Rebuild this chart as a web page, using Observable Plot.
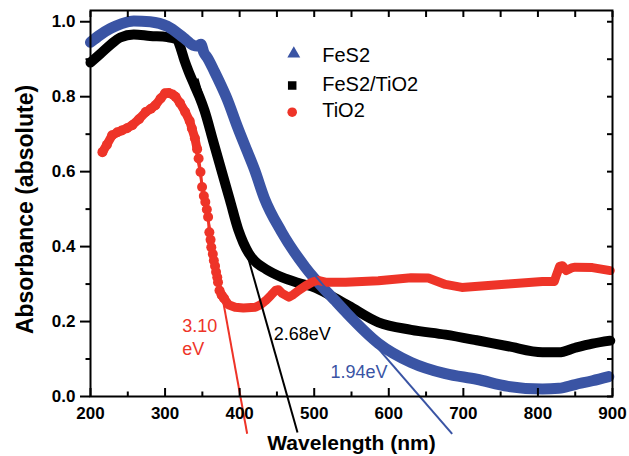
<!DOCTYPE html>
<html><head><meta charset="utf-8">
<script src="https://cdn.jsdelivr.net/npm/d3@7"></script>
<script src="https://cdn.jsdelivr.net/npm/@observablehq/plot@0.6"></script>
<style>
html,body{margin:0;padding:0;background:#fff;}
#chart svg{display:block;}
</style></head><body><div id="chart"></div>
<script>
// ---- data ----
const seriesNames = ["FeS2", "FeS2/TiO2", "TiO2"];

const fes2Wl  = [200, 213, 227, 242, 258, 280, 303, 325, 338, 343, 348, 352, 357, 366, 374, 383, 397, 410, 420, 433, 456, 488, 528, 542, 586, 630, 676, 718, 760, 806, 828, 850, 873, 895];
const fes2Abs = [0.945, 0.965, 0.982, 0.995, 1.002, 1.0, 0.988, 0.957, 0.937, 0.935, 0.94, 0.918, 0.903, 0.868, 0.835, 0.795, 0.72, 0.655, 0.605, 0.53, 0.44, 0.345, 0.256, 0.226, 0.142, 0.091, 0.061, 0.046, 0.027, 0.020, 0.022, 0.032, 0.042, 0.053];

const compWl  = [200, 213, 227, 240, 258, 280, 303, 316, 320, 326, 332, 339.5, 346, 352.9, 364.3, 375.7, 387.1, 398.5, 405, 412, 420, 435, 457, 479, 502, 524, 546, 586, 630, 676, 718, 760, 806, 828, 850, 873, 897];
const compAbs = [0.891, 0.914, 0.939, 0.958, 0.966, 0.962, 0.959, 0.953, 0.935, 0.897, 0.865, 0.83, 0.80, 0.763, 0.683, 0.603, 0.523, 0.443, 0.41, 0.383, 0.362, 0.34, 0.318, 0.303, 0.29, 0.267, 0.2425, 0.198, 0.178, 0.165, 0.150, 0.134, 0.118, 0.118, 0.13, 0.141, 0.149];

const tio2Wl  = [216, 222, 229, 236, 242, 249, 256, 265, 274, 281, 287, 294, 300, 305, 310, 314, 320, 327, 333, 336, 340, 343, 345, 347.5, 349.6, 352, 354, 356, 357.7, 359.4, 361, 362, 364, 365.4, 367, 368.4, 370, 371, 373, 376, 379, 385, 394, 405, 421, 428, 435, 442, 448, 452, 457, 466, 472, 479, 488, 497, 505, 515, 530, 542, 586, 630, 653, 676, 698, 720, 760, 806, 822, 825, 829, 833, 838, 845, 850, 873, 897];
const tio2Abs = [0.652, 0.672, 0.697, 0.705, 0.71, 0.716, 0.724, 0.74, 0.759, 0.768, 0.777, 0.795, 0.809, 0.81, 0.806, 0.80, 0.783, 0.759, 0.735, 0.715, 0.689, 0.66, 0.635, 0.599, 0.559, 0.535, 0.519, 0.499, 0.479, 0.438, 0.418, 0.398, 0.38, 0.363, 0.348, 0.332, 0.318, 0.305, 0.283, 0.27, 0.262, 0.245, 0.238, 0.236, 0.238, 0.245, 0.256, 0.27, 0.283, 0.285, 0.275, 0.265, 0.272, 0.283, 0.295, 0.305, 0.31, 0.305, 0.305, 0.305, 0.309, 0.317, 0.316, 0.299, 0.291, 0.294, 0.30, 0.307, 0.307, 0.325, 0.347, 0.349, 0.336, 0.343, 0.345, 0.344, 0.336];

// band-gap tangent lines (start / end points)
const tangentSeries = ["TiO2", "FeS2/TiO2", "FeS2"];
const tangentX1 = [333.4, 343.5, 450];
const tangentY1 = [0.7418, 0.8485, 0.44];
const tangentX2 = [410.1, 477.6, 685];
const tangentY2 = [-0.0995, -0.0961, -0.0995];

// annotations
const annText   = ["3.10", "eV", "2.68eV", "1.94eV"];
const annSeries = ["TiO2", "TiO2", "FeS2/TiO2", "FeS2"];
const annX      = [323, 323, 445.8, 521.8];
const annY      = [0.187, 0.125, 0.165, 0.0635];

// axes
const xMajor = [200, 300, 400, 500, 600, 700, 800, 900];
const xMinor = [250, 350, 450, 550, 650, 750, 850];
const xTop   = [200, 250, 300, 350, 400, 450, 500, 550, 600, 650, 700, 750, 800, 850, 900];
const yMajor = [0, 0.2, 0.4, 0.6, 0.8, 1.0];
const yMinor = [0.1, 0.3, 0.5, 0.7, 0.9];
const yRight = [0, 0.1, 0.2, 0.3, 0.4, 0.5, 0.6, 0.7, 0.8, 0.9, 1.0];
const xTitle = "Wavelength (nm)";
const yTitle = "Absorbance (absolute)";

// ---- build ----
const BLUE = "#3a54a4", BLACK = "#000000", RED = "#ee3428";
const colorOf = {"FeS2": BLUE, "FeS2/TiO2": BLACK, "TiO2": RED};
const font = "'Liberation Sans', Arial, Helvetica, sans-serif";

const fes2 = fes2Wl.map((x, i) => ({x, y: fes2Abs[i]}));
const comp = compWl.map((x, i) => ({x, y: compAbs[i]}));
const tio2 = tio2Wl.map((x, i) => ({x, y: tio2Abs[i]}));
const tio2Dots = tio2.filter(d => d.x < 380);
const tio2Early = tio2.filter(d => d.x <= 343);
const tio2Band = tio2.filter(d => d.x >= 373);
const tangents = tangentSeries.map((s, i) => ({s, x1: tangentX1[i], y1: tangentY1[i], x2: tangentX2[i], y2: tangentY2[i]}));
const anns = annText.map((t, i) => ({t, s: annSeries[i], x: annX[i], y: annY[i]}));

const symbols = ["triangle", "square", "circle"];
const legendSymDx = [203.3, 201.7, 201.7];
const legendSymDy = [43.3, 75, 101.7];
const legendTxtDy = [45, 74, 100];

const plot = Plot.plot({
  width: 629, height: 456,
  marginLeft: 90, marginRight: 17, marginTop: 10, marginBottom: 60,
  style: {fontFamily: font, background: "#fff", color: "#000"},
  x: {domain: [200, 900]},
  y: {domain: [0, 1.03]},
  marks: [
    Plot.line(comp, {x: "x", y: "y", stroke: BLACK, strokeWidth: 10, strokeLinecap: "round", strokeLinejoin: "round", curve: "monotone-x"}),
    Plot.line(fes2, {x: "x", y: "y", stroke: BLUE, strokeWidth: 11, strokeLinecap: "round", strokeLinejoin: "round", curve: "monotone-x"}),
    Plot.line(tio2, {x: "x", y: "y", stroke: RED, strokeWidth: 3, strokeLinejoin: "round"}),
    Plot.line(tio2Early, {x: "x", y: "y", stroke: RED, strokeWidth: 9, strokeLinecap: "round", strokeLinejoin: "round"}),
    Plot.line(tio2Band, {x: "x", y: "y", stroke: RED, strokeWidth: 9, strokeLinecap: "round", strokeLinejoin: "round"}),
    Plot.dot(tio2Dots, {x: "x", y: "y", r: 5, fill: RED}),
    Plot.link(tangents, {x1: "x1", y1: "y1", x2: "x2", y2: "y2", stroke: d => colorOf[d.s], strokeWidth: 2}),
    Plot.text(anns, {x: "x", y: "y", text: "t", fill: d => colorOf[d.s], textAnchor: "start", fontSize: 18}),
    // legend
    ...seriesNames.map((s, i) => Plot.dot([s], {frameAnchor: "top-left", dx: legendSymDx[i], dy: legendSymDy[i], symbol: symbols[i], r: 4.8, fill: colorOf[s]})),
    ...seriesNames.map((s, i) => Plot.text([s], {frameAnchor: "top-left", dx: 231.7, dy: legendTxtDy[i], text: d => d, textAnchor: "start", lineAnchor: "middle", fontSize: 20, fill: "#000"})),
    // frame & axes
    Plot.frame({strokeWidth: 2}),
    Plot.axisY({anchor: "left", ticks: yMajor, tickSize: 10, tickPadding: 5, tickFormat: d3.format(".1f"), fontSize: 17, fontWeight: "bold", strokeWidth: 2, label: null}),
    Plot.axisY({anchor: "left", ticks: yMinor, tickSize: 4.5, text: null, strokeWidth: 2, label: null}),
    Plot.axisY({anchor: "right", ticks: yRight, tickSize: -6, text: null, strokeWidth: 2, label: null}),
    Plot.axisX({anchor: "bottom", ticks: xMajor, tickSize: 0, tickPadding: 10, fontSize: 17, fontWeight: "bold", label: null}),
    Plot.axisX({anchor: "bottom", ticks: xMajor, tickSize: -8, text: null, strokeWidth: 2, label: null}),
    Plot.axisX({anchor: "bottom", ticks: xMinor, tickSize: -4.5, text: null, strokeWidth: 2, label: null}),
    Plot.axisX({anchor: "top", ticks: xTop, tickSize: -6, text: null, strokeWidth: 2, label: null}),
    Plot.text([xTitle], {frameAnchor: "bottom", lineAnchor: "middle", dy: 46.5, text: d => d, fontSize: 21, fontWeight: "bold", fill: "#000"}),
    Plot.text([yTitle], {frameAnchor: "left", rotate: -90, textAnchor: "middle", lineAnchor: "middle", dx: -64.5, dy: 6, text: d => d, fontSize: 23, fontWeight: "bold", fill: "#000"})
  ]
});
document.getElementById("chart").appendChild(plot);
</script>
</body></html>
